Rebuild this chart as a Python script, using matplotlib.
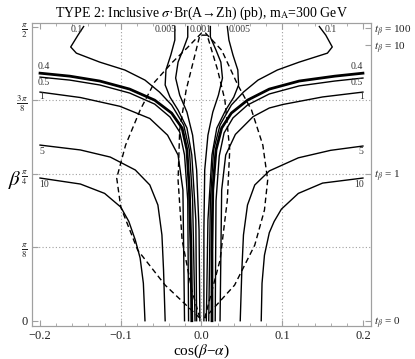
import numpy as np
import matplotlib.pyplot as plt

# contour lines: x = cos(beta-alpha), y = beta
c04_L = ([-0.200, -0.163, -0.126, -0.089, -0.058, -0.037, -0.024, -0.018, -0.015, -0.013, -0.012],
         [1.322, 1.306, 1.280, 1.237, 1.178, 1.109, 1.029, 0.912, 0.698, 0.377, 0.0])
c04_R = ([0.200, 0.165, 0.121, 0.084, 0.057, 0.037, 0.025, 0.018, 0.014, 0.013, 0.013],
         [1.322, 1.306, 1.280, 1.237, 1.178, 1.109, 1.029, 0.912, 0.698, 0.377, 0.0])
c05_L = ([-0.200, -0.163, -0.126, -0.089, -0.058, -0.039, -0.027, -0.021, -0.017, -0.016],
         [1.301, 1.285, 1.259, 1.216, 1.157, 1.088, 1.008, 0.885, 0.644, 0.0])
c05_R = ([0.200, 0.165, 0.121, 0.084, 0.057, 0.039, 0.028, 0.022, 0.018, 0.017],
         [1.296, 1.280, 1.254, 1.211, 1.152, 1.083, 1.003, 0.880, 0.640, 0.0])
c1_L = ([-0.200, -0.150, -0.101, -0.064, -0.042, -0.029, -0.023, -0.021],
        [1.221, 1.192, 1.145, 1.080, 0.991, 0.885, 0.698, 0.0])
c1_R = ([0.200, 0.150, 0.101, 0.084, 0.064, 0.042, 0.030, 0.025, 0.023],
        [1.221, 1.195, 1.155, 1.136, 1.090, 0.995, 0.885, 0.698, 0.0])
c5_L = ([-0.200, -0.150, -0.113, -0.082, -0.064, -0.054, -0.049, -0.047, -0.045],
        [0.938, 0.912, 0.874, 0.805, 0.725, 0.618, 0.458, 0.271, 0.0])
c5_R = ([0.200, 0.160, 0.120, 0.084, 0.066, 0.057, 0.052, 0.050, 0.048],
        [0.933, 0.910, 0.870, 0.800, 0.725, 0.618, 0.458, 0.271, 0.0])
c10_L = ([-0.200, -0.150, -0.120, -0.100, -0.090, -0.082, -0.076, -0.072, -0.070],
         [0.762, 0.730, 0.680, 0.607, 0.530, 0.431, 0.335, 0.200, 0.0])
c10_R = ([0.200, 0.150, 0.120, 0.099, 0.090, 0.084, 0.078, 0.075, 0.074],
         [0.762, 0.735, 0.680, 0.596, 0.530, 0.470, 0.350, 0.200, 0.0])
c01_L = ([-0.146, -0.153, -0.162, -0.155, -0.126, -0.095, -0.070, -0.052, -0.037, -0.022, -0.015, -0.011, -0.008],
         [1.571, 1.525, 1.462, 1.429, 1.381, 1.339, 1.285, 1.221, 1.152, 1.045, 0.912, 0.644, 0.0])
c01_R = ([0.146, 0.154, 0.162, 0.156, 0.121, 0.094, 0.070, 0.052, 0.037, 0.023, 0.015, 0.011, 0.009],
         [1.571, 1.525, 1.462, 1.429, 1.381, 1.339, 1.285, 1.221, 1.152, 1.045, 0.912, 0.644, 0.0])
c0005_L = ([-0.033, -0.033, -0.038, -0.044, -0.045, -0.039, -0.029, -0.018, -0.012, -0.007, -0.006],
           [1.571, 1.499, 1.419, 1.339, 1.259, 1.194, 1.125, 1.029, 0.885, 0.538, 0.0])
c0005_R = ([0.032, 0.034, 0.039, 0.045, 0.046, 0.040, 0.030, 0.019, 0.013, 0.008, 0.006],
           [1.571, 1.499, 1.419, 1.339, 1.259, 1.194, 1.125, 1.029, 0.885, 0.538, 0.0])
c0001_L = ([-0.017, -0.017, -0.023, -0.029, -0.032, -0.027, -0.018, -0.011, -0.006, -0.003, -0.002],
           [1.571, 1.515, 1.445, 1.381, 1.296, 1.205, 1.114, 0.991, 0.805, 0.484, 0.0])
c0001_R = ([0.011, 0.011, 0.018, 0.024, 0.026, 0.021, 0.014, 0.008, 0.004, 0.003, 0.003],
           [1.571, 1.515, 1.445, 1.381, 1.296, 1.205, 1.114, 0.991, 0.805, 0.484, 0.0])

# dashed curves (left branch up to the apex, then right branch down)
d_outer = ([-0.002, -0.045, -0.079, -0.100, -0.105, -0.094, -0.076, -0.058, -0.037, -0.018, 0.000,
            0.005, 0.025, 0.045, 0.062, 0.076, 0.082, 0.078, 0.066, 0.041, 0.004],
           [0.014, 0.190, 0.377, 0.607, 0.762, 0.938, 1.125, 1.275, 1.376, 1.456, 1.536,
            1.536, 1.445, 1.259, 1.125, 0.938, 0.751, 0.591, 0.404, 0.190, 0.014])
d_inner = ([-0.002, -0.012, -0.024, -0.029, -0.027, -0.019, -0.002,
            0.007, 0.020, 0.029, 0.035, 0.032, 0.023, 0.004],
           [0.014, 0.164, 0.431, 0.751, 1.018, 1.232, 1.525,
            1.525, 1.339, 1.178, 0.912, 0.644, 0.324, 0.014])

solid = [c01_L, c01_R, c0005_L, c0005_R, c0001_L, c0001_R,
         c05_L, c05_R, c1_L, c1_R, c5_L, c5_R, c10_L, c10_R]

edge_labels = [("0.4", -0.195, 1.355), ("0.5", -0.195, 1.270), ("1", -0.198, 1.195),
               ("5", -0.198, 0.905), ("10", -0.195, 0.725),
               ("0.4", 0.192, 1.355), ("0.5", 0.192, 1.270), ("1", 0.198, 1.195),
               ("5", 0.198, 0.905), ("10", 0.195, 0.725)]
top_labels = [("0.1", -0.155, 1.553), ("0.005", -0.045, 1.553), ("0.001", -0.001, 1.553),
              ("0.005", 0.047, 1.553), ("0.1", 0.160, 1.553)]

x_ticks = [-0.2, -0.1, 0.0, 0.1, 0.2]
x_ticklabels = ["\u22120.2", "\u22120.1", "0.0", "0.1", "0.2"]
y_ticks = [0, np.pi / 8, np.pi / 4, 3 * np.pi / 8, np.pi / 2]
y_ticklabels = ["0", r"$\frac{\pi}{8}$", r"$\frac{\pi}{4}$", r"$\frac{3\,\pi}{8}$", r"$\frac{\pi}{2}$"]
tb_values = [0, 1, 10, 100]

plt.rcParams['font.family'] = 'Liberation Serif'
plt.rcParams['mathtext.fontset'] = 'stix'

fig = plt.figure(figsize=(4.15, 3.59), dpi=100)
ax = fig.add_axes([0.077, 0.092, 0.817, 0.845])

gray = '#a0a0a0'
for v in [-0.1, 0.0, 0.1]:
    ax.axvline(v, color=gray, lw=0.8, ls=(0, (1, 2)), zorder=0)
for v in y_ticks[1:4]:
    ax.axhline(v, color=gray, lw=0.8, ls=(0, (1, 2)), zorder=0)

for xs, ys in solid:
    ax.plot(xs, ys, color='black', lw=1.0)
for xs, ys in [c04_L, c04_R]:
    ax.plot(xs, ys, color='black', lw=2.0)
for xs, ys in [d_outer, d_inner]:
    ax.plot(xs, ys, color='black', lw=1.0, ls=(0, (4, 2.5)))

for t, x, y in edge_labels + top_labels:
    ax.text(x, y, t, fontsize=7, ha='center', va='center', color='#333333')

ax.set_xlim(-0.21, 0.21)
ax.set_ylim(-0.028, 1.592)
ax.set_xticks(x_ticks)
ax.set_xticklabels(x_ticklabels, fontsize=9)
ax.set_xticks(np.arange(-0.18, 0.2, 0.02), minor=True)
ax.set_yticks(y_ticks)
ax.set_yticklabels(y_ticklabels, fontsize=9)
ax.tick_params(direction='in', top=True, which='both', color=gray, labelcolor='#222222')
ax.tick_params(which='major', length=4, pad=3)
ax.tick_params(which='minor', length=2)

for s in ax.spines.values():
    s.set_color(gray)

ax2 = ax.twinx()
ax2.set_ylim(ax.get_ylim())
ax2.set_yticks(np.arctan(tb_values))
ax2.set_yticklabels([r"$t_\beta$ = %d" % v for v in tb_values], fontsize=8)
ax2.tick_params(direction='in', color=gray, length=4, pad=2, labelcolor='#222222')
for s in ax2.spines.values():
    s.set_color(gray)

ax.set_xlabel("cos($\\beta$\u2212$\\alpha$)", fontsize=11, va='center')
ax.xaxis.set_label_coords(0.5, -0.082)
ax.set_ylabel(r"$\beta$", fontsize=15, rotation=0, va='center', ha='center')
ax.yaxis.set_label_coords(-0.05, 0.48)
ax.set_title("TYPE 2: Inclusive $\\sigma$\u00b7Br(A\u2192Zh) (pb), m$_\\mathrm{A}$=300 GeV",
             fontsize=10, pad=4)

fig.savefig("out.png", dpi=100)
